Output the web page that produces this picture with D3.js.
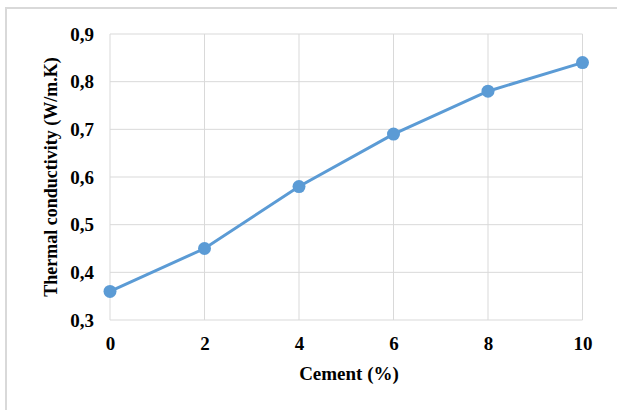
<!DOCTYPE html>
<html><head><meta charset="utf-8">
<script src="https://cdn.jsdelivr.net/npm/d3@7"></script>
<style>body{margin:0;background:#fff}svg{display:block}
text{font-family:"Liberation Serif","Times New Roman","DejaVu Serif",serif;font-weight:bold;fill:#000}</style>
</head><body>
<script>
const cement = [0, 2, 4, 6, 8, 10];
const conductivity = [0.36, 0.45, 0.58, 0.69, 0.78, 0.84];
const yTicks = [0.3, 0.4, 0.5, 0.6, 0.7, 0.8, 0.9];
const xTicks = [0, 2, 4, 6, 8, 10];
const xTitle = "Cement (%)";
const yTitle = "Thermal conductivity (W/m.K)";

const W = 617, H = 410;
const m = {left: 110, right: 617 - 582.5, top: 34, bottom: 410 - 320};
const svg = d3.select("body").append("svg").attr("width", W).attr("height", H);
svg.append("rect").attr("x", 6).attr("y", 8).attr("width", W).attr("height", H)
  .attr("fill", "#fff").attr("stroke", "#d9d9d9").attr("stroke-width", 2);

const x = d3.scaleLinear().domain([0, 10]).range([m.left, W - m.right]);
const y = d3.scaleLinear().domain([0.3, 0.9]).range([H - m.bottom, m.top]);

const g = svg.append("g");
g.selectAll(".hg").data(yTicks).join("line")
  .attr("x1", x(0)).attr("x2", x(10)).attr("y1", d => y(d)).attr("y2", d => y(d))
  .attr("stroke", "#d9d9d9").attr("stroke-width", 1);
g.selectAll(".vg").data(xTicks).join("line")
  .attr("y1", y(0.3)).attr("y2", y(0.9)).attr("x1", d => x(d)).attr("x2", d => x(d))
  .attr("stroke", "#d9d9d9").attr("stroke-width", 1);

const yAxis = svg.append("g").attr("transform", `translate(${m.left},0)`)
  .call(d3.axisLeft(y).tickValues(yTicks).tickSize(0).tickPadding(16)
    .tickFormat(d => d3.format(".1f")(d).replace(".", ",")));
yAxis.select(".domain").remove();
yAxis.attr("font-family", null).attr("font-size", null);
yAxis.selectAll("text").style("font-size", "19px");

const xAxis = svg.append("g").attr("transform", `translate(0,${y(0.3)})`)
  .call(d3.axisBottom(x).tickValues(xTicks).tickSize(0).tickPadding(17).tickFormat(d3.format("d")));
xAxis.select(".domain").remove();
xAxis.attr("font-family", null).attr("font-size", null);
xAxis.selectAll("text").style("font-size", "19px");

svg.append("text").attr("x", 349).attr("y", 380).attr("text-anchor", "middle")
  .style("font-size", "19px").text(xTitle);
svg.append("text").attr("transform", `translate(57,${(y(0.3)+y(0.9))/2}) rotate(-90)`)
  .attr("text-anchor", "middle").style("font-size", "18px").text(yTitle);

const data = cement.map((c, i) => ({c, v: conductivity[i]}));
svg.append("path").datum(data)
  .attr("d", d3.line().x(d => x(d.c)).y(d => y(d.v)))
  .attr("fill", "none").attr("stroke", "#5b9bd5").attr("stroke-width", 3);
svg.selectAll(".pt").data(data).join("circle")
  .attr("cx", d => x(d.c)).attr("cy", d => y(d.v)).attr("r", 6.5).attr("fill", "#5b9bd5");
</script>
</body></html>
